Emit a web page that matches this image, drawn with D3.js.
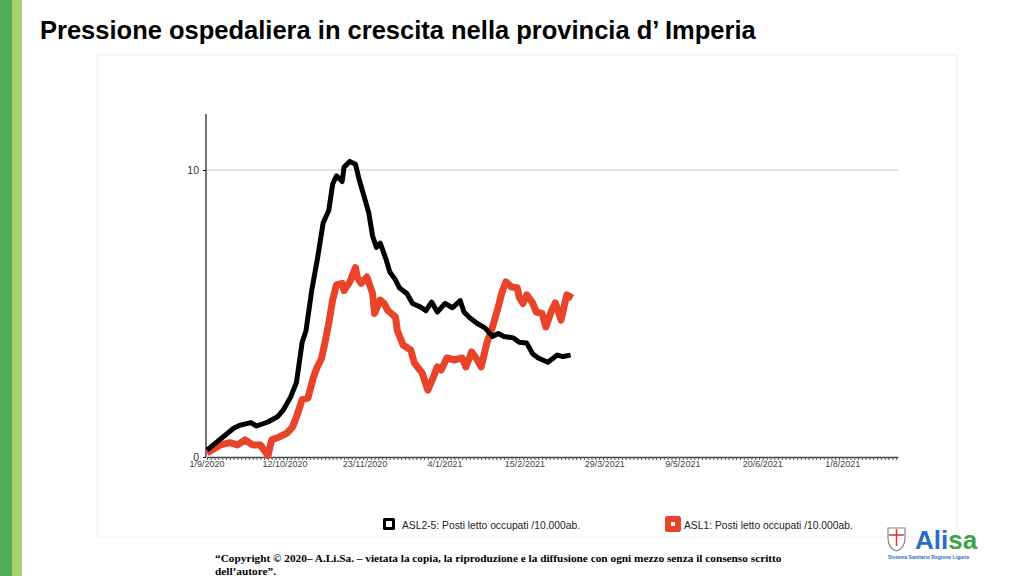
<!DOCTYPE html>
<html>
<head>
<meta charset="utf-8">
<script src="https://cdn.jsdelivr.net/npm/d3@7"></script>
<style>
  body { margin: 0; background: #fff; }
  svg { display: block; font-family: 'Liberation Sans', Arial, sans-serif; }
</style>
</head>
<body>
<svg id="chart" width="1024" height="576"></svg>
<script>
// ASL2-5 (black) and ASL1 (red): posti letto occupati per 10.000 abitanti
const blackDates = ['2020-09-01','2020-09-15','2020-09-18','2020-09-24','2020-09-27','2020-10-03','2020-10-08','2020-10-11','2020-10-15','2020-10-18','2020-10-21','2020-10-23','2020-10-26','2020-10-29','2020-11-01','2020-11-04','2020-11-06','2020-11-08','2020-11-11','2020-11-12','2020-11-15','2020-11-18','2020-11-20','2020-11-22','2020-11-25','2020-11-27','2020-11-29','2020-12-01','2020-12-04','2020-12-06','2020-12-09','2020-12-11','2020-12-15','2020-12-18','2020-12-22','2020-12-25','2020-12-28','2020-12-31','2021-01-04','2021-01-08','2021-01-12','2021-01-14','2021-01-17','2021-01-21','2021-01-25','2021-01-29','2021-02-01','2021-02-04','2021-02-09','2021-02-12','2021-02-16','2021-02-19','2021-02-22','2021-02-27','2021-03-02','2021-03-04','2021-03-07','2021-03-11'];
const blackValues = [0.24,1.0,1.1,1.2,1.08,1.22,1.4,1.63,2.1,2.6,4.0,4.4,5.8,6.9,8.15,8.6,9.5,9.8,9.6,10.1,10.3,10.2,9.65,9.2,8.5,7.7,7.3,7.45,6.9,6.45,6.17,5.9,5.7,5.35,5.23,5.1,5.4,5.05,5.35,5.2,5.45,5.05,4.85,4.65,4.5,4.2,4.3,4.2,4.15,4.0,3.97,3.6,3.45,3.3,3.45,3.55,3.5,3.55];

const redDates = ['2020-09-01','2020-09-08','2020-09-13','2020-09-17','2020-09-21','2020-09-25','2020-09-29','2020-10-01','2020-10-03','2020-10-05','2020-10-09','2020-10-13','2020-10-16','2020-10-18','2020-10-21','2020-10-24','2020-10-27','2020-10-29','2020-10-31','2020-11-02','2020-11-04','2020-11-06','2020-11-08','2020-11-11','2020-11-12','2020-11-15','2020-11-18','2020-11-19','2020-11-21','2020-11-24','2020-11-27','2020-11-28','2020-12-01','2020-12-03','2020-12-05','2020-12-09','2020-12-10','2020-12-13','2020-12-17','2020-12-19','2020-12-23','2020-12-26','2020-12-29','2020-12-31','2021-01-02','2021-01-05','2021-01-09','2021-01-13','2021-01-15','2021-01-18','2021-01-21','2021-01-23','2021-01-26','2021-01-29','2021-02-01','2021-02-03','2021-02-05','2021-02-08','2021-02-11','2021-02-12','2021-02-14','2021-02-16','2021-02-19','2021-02-21','2021-02-24','2021-02-26','2021-03-01','2021-03-03','2021-03-06','2021-03-09','2021-03-12'];
const redValues = [0.14,0.42,0.5,0.42,0.6,0.42,0.42,0.24,0.05,0.6,0.7,0.83,1.05,1.4,2.0,2.05,2.8,3.15,3.4,4.0,4.67,5.47,6.0,6.05,5.8,6.1,6.6,6.25,6.05,6.27,5.7,5.0,5.47,5.35,5.1,4.88,4.4,3.9,3.73,3.27,2.93,2.33,2.8,3.14,3.03,3.45,3.38,3.45,3.14,3.66,3.38,3.14,3.97,4.53,5.23,5.75,6.1,5.92,5.9,5.57,5.35,5.65,5.37,5.05,5.0,4.53,5.1,5.37,4.77,5.65,5.54];

const tickLabels = ['1/9/2020','12/10/2020','23/11/2020','4/1/2021','15/2/2021','29/3/2021','9/5/2021','20/6/2021','1/8/2021'];
const yTicks = [0, 10];
const legendLabels = ['ASL2-5:  Posti letto occupati /10.000ab.', 'ASL1:  Posti letto occupati /10.000ab.'];

const parseDate = d3.timeParse('%Y-%m-%d');
const parseLabel = d3.timeParse('%d/%m/%Y');

const svg = d3.select('#chart');

// left green stripes
svg.append('rect').attr('x', 0).attr('y', 0).attr('width', 12).attr('height', 576).attr('fill', '#52ad5b');
svg.append('rect').attr('x', 12).attr('y', 0).attr('width', 10).attr('height', 576).attr('fill', '#a6d16b');

// title
svg.append('text')
  .attr('x', 40).attr('y', 39)
  .style('font-size', '25.5px').style('font-weight', 'bold')
  .text('Pressione ospedaliera in crescita nella provincia d’ Imperia');

// chart frame
svg.append('rect')
  .attr('x', 97).attr('y', 55).attr('width', 860).attr('height', 482)
  .attr('fill', 'none').attr('stroke', '#eeeeee');

const x = d3.scaleTime()
  .domain([parseDate('2020-09-01'), parseDate('2021-08-30')])
  .range([207, 898]);
const y = d3.scaleLinear().domain([0, 10]).range([457, 170]);

// gridline at 10
svg.append('line')
  .attr('x1', x.range()[0]).attr('x2', x.range()[1])
  .attr('y1', y(10)).attr('y2', y(10))
  .attr('stroke', '#c8c8c8').attr('stroke-width', 1);

// y axis
const yAxis = svg.append('g')
  .attr('transform', 'translate(206,0)')
  .call(d3.axisLeft(y).tickValues(yTicks).tickSize(3).tickPadding(4));
yAxis.select('.domain').attr('d', 'M0,114V457').attr('stroke', '#444').attr('stroke-width', 1.5);
yAxis.selectAll('text').style('font-size', '10.5px').style('font-family', "'Liberation Sans', Arial").attr('fill', '#333');

// x axis: minor ticks every 2 days, labelled every 42 days
const minorTicks = d3.timeDay.range(x.domain()[0], d3.timeDay.offset(x.domain()[1], 1), 2);
const xAxis = svg.append('g')
  .attr('transform', 'translate(0,457)')
  .call(d3.axisBottom(x).tickValues(minorTicks).tickSize(3).tickSizeOuter(0).tickFormat(''));
xAxis.select('.domain').attr('stroke', '#444').attr('stroke-width', 1.5);
xAxis.selectAll('.tick line').attr('stroke', '#555');

svg.append('g').selectAll('text')
  .data(tickLabels)
  .join('text')
  .attr('x', (d) => x(parseLabel(d)))
  .attr('y', 467)
  .attr('text-anchor', 'middle')
  .style('font-size', '9px')
  .attr('fill', '#444')
  .text((d) => d);

// lines
const line = d3.line()
  .x((d) => x(d.date))
  .y((d) => y(d.value));

const redData = redDates.map((d, i) => ({ date: parseDate(d), value: redValues[i] }));
const blackData = blackDates.map((d, i) => ({ date: parseDate(d), value: blackValues[i] }));

svg.append('path')
  .datum(redData)
  .attr('fill', 'none')
  .attr('stroke', '#e9432a')
  .attr('stroke-width', 7)
  .attr('stroke-linejoin', 'round')
  .attr('d', line);

svg.append('path')
  .datum(blackData)
  .attr('fill', 'none')
  .attr('stroke', '#000')
  .attr('stroke-width', 5)
  .attr('stroke-linejoin', 'round')
  .attr('d', line);

// legend
const legend = svg.append('g').style('white-space', 'pre');
legend.append('rect').attr('x', 383).attr('y', 518).attr('width', 12).attr('height', 12).attr('rx', 1.5).attr('fill', '#000');
legend.append('rect').attr('x', 386).attr('y', 521).attr('width', 6).attr('height', 6).attr('fill', '#fff');
legend.append('text').attr('x', 402).attr('y', 529).style('font-size', '10.3px').attr('fill', '#222').text(legendLabels[0]);
legend.append('rect').attr('x', 665).attr('y', 516).attr('width', 16).attr('height', 16).attr('rx', 2.5).attr('fill', '#e9432a');
legend.append('rect').attr('x', 671).attr('y', 522).attr('width', 4).attr('height', 4).attr('fill', '#fff');
legend.append('text').attr('x', 684).attr('y', 529).style('font-size', '10.3px').attr('fill', '#222').text(legendLabels[1]);

// footer
const foot = svg.append('text')
  .attr('x', 215).attr('y', 562)
  .style('font-family', "'Liberation Serif', 'Times New Roman', serif")
  .style('font-size', '11.3px').style('font-weight', 'bold');
foot.append('tspan').text('“Copyright © 2020– A.Li.Sa. – vietata la copia, la riproduzione e la diffusione con ogni mezzo senza il consenso scritto');
foot.append('tspan').attr('x', 215).attr('dy', 13).text('dell’autore”.');

// logo
const logo = svg.append('g');
logo.append('path')
  .attr('d', 'M888,528 h17 v10 q0,10 -8.5,13 q-8.5,-3 -8.5,-13 z')
  .attr('fill', '#fff').attr('stroke', '#888').attr('stroke-width', 1.2);
logo.append('line').attr('x1', 896.5).attr('x2', 896.5).attr('y1', 529).attr('y2', 546).attr('stroke', '#d33').attr('stroke-width', 1.5);
logo.append('line').attr('x1', 889).attr('x2', 904).attr('y1', 535).attr('y2', 535).attr('stroke', '#d33').attr('stroke-width', 1.5);
const brand = logo.append('text').attr('x', 915).attr('y', 549)
  .style('font-size', '26px').style('font-weight', 'bold');
brand.append('tspan').attr('fill', '#2b6dc5').text('Ali');
brand.append('tspan').attr('fill', '#3ea346').text('sa');
logo.append('text').attr('x', 888).attr('y', 559)
  .style('font-size', '5px').style('font-weight', 'bold').attr('fill', '#2b6dc5')
  .text('Sistema Sanitario Regione Liguria');
</script>
</body>
</html>
